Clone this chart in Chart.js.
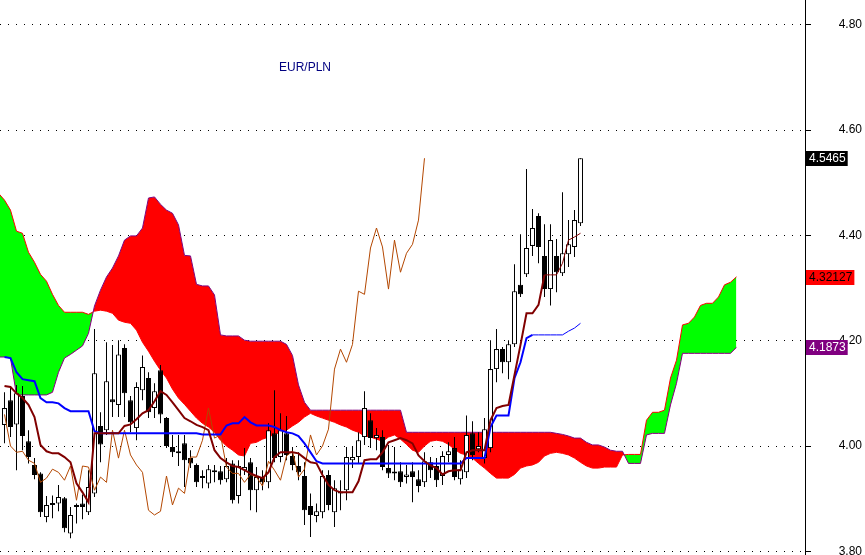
<!DOCTYPE html>
<html>
<head>
<meta charset="utf-8">
<script src="https://cdn.jsdelivr.net/npm/chart.js@4/dist/chart.umd.min.js"></script>
<style>
  html, body { margin: 0; padding: 0; background: #fff; }
  #wrap { width: 865px; height: 555px; position: relative; }
</style>
</head>
<body>
<div id="wrap"><canvas id="ichimoku"></canvas></div>
<script>
// EUR/PLN daily candles (bar 0 = leftmost)
const opens = [
  4.040, 4.087, 4.041, 4.095, 4.009, 3.964, 3.948, 3.865, 3.889, 3.891,
  3.901, 3.834, 3.888, 3.891, 3.874, 3.910, 4.038, 4.030, 4.089, 4.078,
  4.186, 4.087, 4.034, 4.106, 4.129, 4.072, 4.144, 4.053, 3.998, 3.986,
  4.005, 3.977, 3.964, 3.941, 3.929, 3.952, 3.952, 3.937, 3.967, 3.905,
  3.954, 3.969, 3.916, 3.939, 3.931, 4.024, 3.979, 4.024, 3.981, 3.962,
  3.943, 3.886, 3.867, 3.874, 3.945, 3.874, 3.912, 3.916, 3.973, 3.979,
  4.017, 4.049, 4.015, 4.017, 3.958, 3.950, 3.952, 3.941, 3.952, 3.937,
  3.931, 3.969, 3.962, 3.943, 3.983, 3.996, 3.937, 3.950, 4.024, 3.994,
  3.977, 3.996, 4.146, 4.184, 4.159, 4.193, 4.306, 4.326, 4.380, 4.437,
  4.361, 4.298, 4.361, 4.328, 4.364, 4.378, 4.423
];
const highs = [
  4.102, 4.110, 4.116, 4.114, 4.030, 3.977, 3.950, 3.905, 3.906, 3.926,
  3.903, 3.884, 3.891, 3.908, 3.954, 4.222, 4.064, 4.197, 4.192, 4.201,
  4.193, 4.095, 4.121, 4.172, 4.140, 4.119, 4.154, 4.055, 4.021, 4.021,
  4.021, 3.992, 3.967, 3.954, 3.964, 3.964, 3.962, 3.977, 3.973, 3.973,
  3.996, 3.977, 3.960, 3.954, 4.043, 4.106, 4.062, 4.057, 3.998, 3.988,
  3.969, 3.910, 3.891, 3.954, 3.954, 3.935, 3.935, 3.998, 3.998, 4.026,
  4.104, 4.062, 4.034, 4.030, 4.002, 3.998, 3.969, 3.964, 3.969, 3.954,
  3.988, 3.979, 3.977, 3.990, 4.007, 4.017, 3.973, 4.058, 4.047, 4.026,
  4.053, 4.201, 4.222, 4.188, 4.201, 4.345, 4.402, 4.526, 4.450, 4.442,
  4.421, 4.421, 4.393, 4.482, 4.429, 4.448, 4.5465
];
const lows = [
  4.005, 4.017, 3.954, 3.992, 3.967, 3.937, 3.865, 3.855, 3.863, 3.876,
  3.836, 3.825, 3.853, 3.861, 3.869, 3.903, 3.969, 4.021, 4.055, 4.055,
  4.055, 4.026, 4.011, 4.087, 4.053, 4.053, 4.043, 3.996, 3.979, 3.962,
  3.922, 3.958, 3.922, 3.920, 3.920, 3.931, 3.927, 3.931, 3.891, 3.891,
  3.945, 3.878, 3.874, 3.916, 3.920, 3.969, 3.969, 3.973, 3.954, 3.935,
  3.850, 3.827, 3.855, 3.863, 3.878, 3.846, 3.878, 3.897, 3.958, 3.967,
  4.002, 3.996, 3.992, 3.954, 3.939, 3.935, 3.922, 3.929, 3.893, 3.912,
  3.922, 3.939, 3.922, 3.926, 3.969, 3.935, 3.927, 3.939, 3.973, 3.988,
  3.967, 3.988, 4.121, 4.138, 4.127, 4.188, 4.283, 4.321, 4.361, 4.347,
  4.283, 4.267, 4.292, 4.323, 4.340, 4.359, 4.418
];
const closes = [
  4.072, 4.036, 4.100, 4.019, 3.979, 3.945, 3.874, 3.888, 3.888, 3.903,
  3.844, 3.869, 3.884, 3.884, 3.922, 4.138, 4.003, 4.123, 4.083, 4.174,
  4.100, 4.045, 4.112, 4.150, 4.064, 4.104, 4.060, 4.000, 3.988, 3.990,
  3.973, 3.967, 3.931, 3.939, 3.956, 3.950, 3.935, 3.962, 3.897, 3.962,
  3.960, 3.916, 3.941, 3.931, 4.030, 3.977, 4.030, 3.983, 3.964, 3.950,
  3.878, 3.869, 3.876, 3.943, 3.888, 3.920, 3.910, 3.979, 3.979, 4.011,
  4.072, 4.015, 4.021, 3.960, 3.948, 3.948, 3.931, 3.946, 3.941, 3.924,
  3.971, 3.954, 3.935, 3.981, 3.990, 3.941, 3.956, 4.021, 3.983, 4.000,
  4.032, 4.146, 4.184, 4.159, 4.193, 4.294, 4.288, 4.376, 4.414, 4.378,
  4.298, 4.391, 4.330, 4.366, 4.383, 4.429, 4.5465
];

// Tenkan-sen (conversion line) and Kijun-sen (base line), one value per bar
const tenkan = [
  4.114, 4.112, 4.100, 4.091, 4.078, 4.055, 4.002, 3.990, 3.986, 3.986,
  3.979, 3.969, 3.929, 3.912, 3.893, 4.024, 4.024, 4.024, 4.024, 4.024,
  4.038, 4.041, 4.051, 4.062, 4.068, 4.085, 4.104, 4.097, 4.083, 4.068,
  4.053, 4.047, 4.040, 4.036, 4.030, 3.992, 3.977, 3.969, 3.962, 3.960,
  3.954, 3.948, 3.943, 3.939, 3.950, 3.979, 3.988, 3.988, 3.988, 3.986,
  3.977, 3.969, 3.967, 3.945, 3.926, 3.916, 3.912, 3.912, 3.912, 3.933,
  3.973, 3.975, 3.975, 3.988, 4.007, 4.011, 4.015, 4.011, 4.005, 3.982,
  3.971, 3.963, 3.958, 3.946, 3.952, 3.954, 3.954, 3.988, 3.992, 3.992,
  3.992, 4.049, 4.072, 4.076, 4.078, 4.135, 4.192, 4.252, 4.252, 4.268,
  4.325, 4.325, 4.325, 4.347, 4.391, 4.397, 4.404
];
const kijun = [
  4.169, 4.167, 4.140, 4.127, 4.125, 4.123, 4.091, 4.083, 4.083, 4.081,
  4.072, 4.066, 4.066, 4.066, 4.066, 4.028, 4.024, 4.024, 4.024, 4.024,
  4.024, 4.024, 4.024, 4.024, 4.024, 4.024, 4.024, 4.024, 4.024, 4.024,
  4.024, 4.024, 4.024, 4.022, 4.022, 4.022, 4.022, 4.039, 4.043, 4.043,
  4.055, 4.045, 4.039, 4.039, 4.039, 4.036, 4.030, 4.026, 4.024, 4.019,
  4.005, 3.988, 3.971, 3.967, 3.967, 3.967, 3.967, 3.967, 3.967, 3.967,
  3.967, 3.967, 3.967, 3.967, 3.967, 3.967, 3.967, 3.967, 3.967, 3.967,
  3.967, 3.967, 3.967, 3.967, 3.967, 3.967, 3.967, 3.977, 3.977, 3.977,
  3.977, 4.036, 4.058, 4.058, 4.058, 4.129, 4.159, 4.205, 4.211, 4.211,
  4.211, 4.211, 4.211, 4.211, 4.218, 4.224, 4.233
];

// Senkou span A / B, projected 26 bars ahead; first value sits at bar -1
const senkouA = [
  4.480,
  4.467, 4.448, 4.408, 4.404, 4.368, 4.349, 4.326, 4.313, 4.288, 4.267,
  4.254, 4.254, 4.254, 4.254, 4.250, 4.256, 4.258, 4.256, 4.252, 4.239,
  4.235, 4.233, 4.220, 4.197, 4.180, 4.161, 4.144, 4.129, 4.108, 4.091,
  4.079, 4.066, 4.053, 4.043, 4.036, 4.026, 4.011, 4.000, 3.992, 3.983,
  3.981, 4.005, 4.007, 4.013, 4.017, 4.022, 4.026, 4.030, 4.038, 4.045,
  4.055, 4.062, 4.057, 4.053, 4.049, 4.045, 4.040, 4.036, 4.030, 4.026,
  4.019, 4.017, 4.013, 4.009, 4.017, 4.021, 4.013, 4.003, 3.992, 3.988,
  4.000, 4.009, 4.011, 4.009, 4.003, 3.994, 3.986, 3.983, 3.977, 3.967,
  3.958, 3.948, 3.939, 3.939, 3.939, 3.946, 3.958, 3.962, 3.964, 3.969,
  3.981, 3.986, 3.988, 3.986, 3.983, 3.977, 3.969, 3.962, 3.958, 3.958,
  3.960, 3.960, 3.960, 3.983, 3.984, 3.984, 3.984, 4.049, 4.064, 4.064,
  4.068, 4.129, 4.163, 4.230, 4.233, 4.245, 4.267, 4.271, 4.271, 4.283,
  4.306, 4.311, 4.32127
];
const senkouB = [
  4.169,
  4.169, 4.167, 4.097, 4.097, 4.097, 4.097, 4.097, 4.097, 4.102, 4.140,
  4.167, 4.174, 4.182, 4.190, 4.214, 4.266, 4.296, 4.321, 4.338, 4.361,
  4.391, 4.399, 4.399, 4.414, 4.471, 4.473, 4.459, 4.448, 4.442, 4.420,
  4.362, 4.361, 4.307, 4.304, 4.304, 4.287, 4.211, 4.209, 4.209, 4.209,
  4.201, 4.199, 4.199, 4.199, 4.199, 4.199, 4.199, 4.193, 4.172, 4.116,
  4.083, 4.068, 4.068, 4.068, 4.068, 4.068, 4.068, 4.068, 4.068, 4.068,
  4.068, 4.068, 4.068, 4.068, 4.068, 4.068, 4.068, 4.026, 4.026, 4.026,
  4.026, 4.026, 4.026, 4.026, 4.026, 4.026, 4.026, 4.026, 4.026, 4.026,
  4.026, 4.026, 4.026, 4.026, 4.026, 4.026, 4.026, 4.026, 4.026, 4.026,
  4.026, 4.026, 4.024, 4.022, 4.019, 4.015, 4.015, 4.007, 4.002, 4.002,
  3.998, 3.992, 3.990, 3.990, 3.967, 3.967, 3.967, 4.021, 4.024, 4.024,
  4.024, 4.078, 4.119, 4.176, 4.176, 4.176, 4.176, 4.176, 4.176, 4.176,
  4.176, 4.176, 4.1873
];

const priceTicks = [3.80, 4.00, 4.20, 4.40, 4.60, 4.80];
const chikouShift = 26;
const cloudFirstBar = -1;
const chartTitle = "EUR/PLN";

const pts = (arr, first = 0) => arr.map((v, i) => ({ x: i + first, y: v }));
const chikou = closes.slice(chikouShift).map((v, i) => ({ x: i, y: v }));
const wicks = lows.map((l, i) => ({ x: i, y: [l, highs[i]] }));
const bodies = opens.map((o, i) => ({ x: i, y: [o, closes[i]] }));
const bodyColors = opens.map((o, i) => closes[i] > o ? "#ffffff" : "#000000");

const FONT = "Arial, 'Liberation Sans', sans-serif";

// title text and the last-value tags on the price axis
const overlay = {
  id: "overlay",
  afterDraw(chart) {
    const { ctx, chartArea, scales: { y } } = chart;
    ctx.save();
    ctx.font = "12px " + FONT;
    ctx.textBaseline = "middle";
    ctx.textAlign = "left";
    ctx.fillStyle = "#000080";
    ctx.fillText(chartTitle, 279, 68);

    const tags = [
      { v: closes[closes.length - 1], bg: "#000000", fg: "#ffffff" },
      { v: senkouA[senkouA.length - 1], bg: "#ff0000", fg: "#000000" },
      { v: senkouB[senkouB.length - 1], bg: "#800080", fg: "#ffffff" }
    ];
    tags.forEach(t => {
      const txt = String(t.v);
      const py = Math.round(y.getPixelForValue(t.v));
      const w = ctx.measureText(txt).width + 5;
      const x0 = chartArea.right + 1;
      ctx.fillStyle = t.bg;
      ctx.fillRect(x0, py - 7, w, 15);
      ctx.fillStyle = t.fg;
      ctx.fillText(txt, x0 + 3, py + 1);
    });
    ctx.restore();
  }
};

new Chart(document.getElementById("ichimoku"), {
  type: "line",
  data: {
    datasets: [
      {
        label: "Tenkan", data: pts(tenkan), borderColor: "#800000", borderWidth: 2,
        segment: { borderWidth: c => c.p0.parsed.x >= 90 ? 1 : 2 }
      },
      {
        label: "Kijun", data: pts(kijun), borderColor: "#0000ff", borderWidth: 2,
        segment: { borderWidth: c => c.p0.parsed.x >= 88 ? 1 : 2 }
      },
      { label: "Chikou", data: chikou, borderColor: "#b34700", borderWidth: 1 },
      {
        type: "bar", label: "Body", data: bodies, grouped: false,
        barThickness: 5, minBarLength: 2, backgroundColor: bodyColors,
        borderColor: "#000000", borderWidth: 1, borderSkipped: false, inflateAmount: 0
      },
      {
        type: "bar", label: "Wick", data: wicks, grouped: false,
        barThickness: 1, backgroundColor: "#000000", borderWidth: 0, inflateAmount: 0
      },
      { label: "Senkou B", data: pts(senkouB, cloudFirstBar), borderColor: "#800080", borderWidth: 1 },
      {
        label: "Senkou A", data: pts(senkouA, cloudFirstBar), borderColor: "#ff0000", borderWidth: 1,
        fill: { target: 5, above: "#00ff00", below: "#ff0000" }
      }
    ]
  },
  options: {
    responsive: true,
    maintainAspectRatio: false,
    animation: false,
    events: [],
    layout: { padding: { left: 0, top: 0, right: 3, bottom: 0 } },
    elements: {
      point: { radius: 0 },
      line: { tension: 0, fill: false }
    },
    plugins: {
      legend: { display: false },
      tooltip: { enabled: false },
      title: { display: false }
    },
    scales: {
      x: {
        type: "linear", min: -0.75, max: 133.4167, offset: false,
        grid: { offset: false }, display: false
      },
      y: {
        position: "right",
        min: 3.793,
        max: 4.847,
        beginAtZero: false,
        afterBuildTicks: scale => { scale.ticks = priceTicks.map(v => ({ value: v })); },
        afterFit: scale => { scale.width = 57; scale.paddingTop = 0; scale.paddingBottom = 0; },
        grid: { color: "#000000", lineWidth: 1, drawTicks: true, tickLength: 6, tickColor: "#000000" },
        border: { display: true, color: "#000000", width: 1, dash: [1, 7] },
        ticks: {
          color: "#000000",
          font: { family: FONT, size: 12 },
          crossAlign: "far",
          padding: 4,
          callback: v => Number(v).toFixed(2)
        }
      }
    }
  },
  plugins: [overlay]
});
</script>
</body>
</html>
